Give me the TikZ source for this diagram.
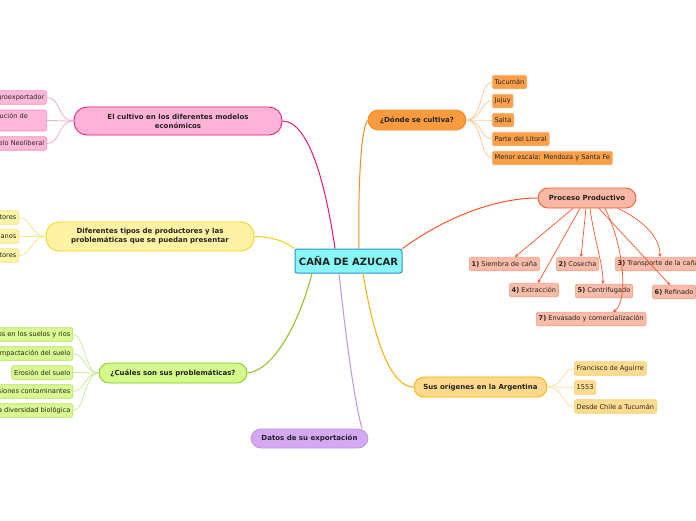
\documentclass[tikz,border=0pt]{standalone}
\usepackage{fontspec}
\setmainfont{DejaVu Sans}
\usetikzlibrary{arrows.meta}
\definecolor{txt}{HTML}{222222}
\definecolor{cenfill}{HTML}{8AF7F7}\definecolor{cendraw}{HTML}{2F8FCF}
\definecolor{pkfill}{HTML}{FFB3D6}\definecolor{pkdraw}{HTML}{E8157A}\definecolor{pkleaf}{HTML}{FFB8DA}\definecolor{pkleafd}{HTML}{F590C0}\definecolor{pkline}{HTML}{F8A9CF}
\definecolor{yefill}{HTML}{FFF3A3}\definecolor{yedraw}{HTML}{EBD21A}\definecolor{yeleaf}{HTML}{FFF4A8}\definecolor{yeleafd}{HTML}{F2E07A}\definecolor{yeline}{HTML}{F5E890}
\definecolor{grfill}{HTML}{D5FA8C}\definecolor{grdraw}{HTML}{8CC21E}\definecolor{grleaf}{HTML}{D8FA90}\definecolor{grleafd}{HTML}{B5E060}\definecolor{grline}{HTML}{CDE9A2}
\definecolor{pufill}{HTML}{D5A8F5}\definecolor{pudraw}{HTML}{B79AD2}
\definecolor{oyfill}{HTML}{FFDA8C}\definecolor{oydraw}{HTML}{F5B000}\definecolor{oyleaf}{HTML}{FFDC90}\definecolor{oyleafd}{HTML}{F8CC70}\definecolor{oyline}{HTML}{FFE0A8}
\definecolor{orfill}{HTML}{F99B3E}\definecolor{ordraw}{HTML}{F58C25}\definecolor{orleaf}{HTML}{FBA04A}\definecolor{orleafd}{HTML}{F9B070}\definecolor{orline}{HTML}{FDCB98}
\definecolor{rdfill}{HTML}{F9B8A3}\definecolor{rddraw}{HTML}{EE5A2E}\definecolor{rdleaf}{HTML}{F9BCA8}\definecolor{rdleafd}{HTML}{F3A088}\definecolor{rdline}{HTML}{F2582C}
\tikzset{
  leaf/.style={draw, rounded corners=2pt, inner sep=2.4pt, minimum height=13.5pt, line width=0.6pt, text=txt, font=\fontsize{6.6}{7.8}\selectfont},
  topic/.style={draw, rounded corners=10pt, minimum height=20pt, line width=0.8pt, text=txt, font=\bfseries\fontsize{7}{9}\selectfont, align=center},
  mainline/.style={line width=1pt},
  leafline/.style={line width=0.8pt},
  arr/.style={line width=0.7pt, draw=rdline, -{Stealth[length=3.5pt,width=3.5pt]}},
}
\begin{document}
\begin{tikzpicture}[x=1pt,y=-1pt]
\path[use as bounding box] (0,0) rectangle (696,520);
\clip (0,0) rectangle (696,520);
\fill[white] (0,0) rectangle (696,520);

% central
\node[draw=cendraw, fill=cenfill, line width=1pt, rounded corners=2pt, minimum width=107pt, minimum height=24pt, text=txt, font=\bfseries\fontsize{10}{12}\selectfont] (c) at (348.5,261) {CAÑA DE AZUCAR};

% topics
\node[topic, draw=pkdraw, fill=pkfill, minimum width=208pt, minimum height=28pt, rounded corners=13pt] (cult) at (178,121) {El cultivo en los diferentes modelos\\económicos};
\node[topic, draw=yedraw, fill=yefill, minimum width=208pt, minimum height=29pt, rounded corners=13pt] (dif) at (150,236.5) {Diferentes tipos de productores y las\\problemáticas que se puedan presentar};
\node[topic, draw=grdraw, fill=grfill, minimum width=148pt] (prob) at (173,373) {¿Cuáles son sus problemáticas?};
\node[topic, draw=pudraw, fill=pufill, minimum width=117pt, minimum height=19pt] (dat) at (309.5,438.5) {Datos de su exportación};
\node[topic, draw=oydraw, fill=oyfill, minimum width=133pt] (ori) at (480.5,387) {Sus orígenes en la Argentina};
\node[topic, draw=ordraw, fill=orfill, minimum width=98pt] (don) at (417,120) {¿Dónde se cultiva?};
\node[topic, draw=rddraw, fill=rdfill, minimum width=98pt] (pp) at (587,198) {Proceso Productivo};

% main connectors
\draw[mainline, pkdraw] (cult.east) .. controls (312,121) and (328,200) .. ([xshift=-13.5pt]c.north);
\draw[mainline, ordraw] (don.west) .. controls (360,130) and (358,200) .. ([xshift=10.5pt]c.north);
\draw[mainline, yedraw] (dif.east) .. controls (275,237) and (285,242) .. (c.north west);
\draw[mainline, rdline] (c.north east) .. controls (450,214) and (500,198) .. (pp.west);
\draw[mainline, grdraw] (prob.east) .. controls (275,370) and (300,320) .. ([xshift=-36.5pt]c.south);
\draw[mainline, pudraw] ([xshift=-9.5pt]c.south) .. controls (345,330) and (354,400) .. ([xshift=52.5pt]dat.north);
\draw[mainline, oydraw] ([xshift=14.5pt]c.south) .. controls (375,345) and (392,387) .. (ori.west);

% pink leaves
\node[leaf, draw=pkleafd, fill=pkleaf, anchor=east] (p1) at (47,97.5) {Modelo Agroexportador};
\node[leaf, draw=pkleafd, fill=pkleaf, anchor=east, text width=100pt, align=left, minimum height=21pt] (p2) at (47,120.5) {Modelo de Sustitución de\\Importaciones};
\node[leaf, draw=pkleafd, fill=pkleaf, anchor=east] (p3) at (47,143.5) {Modelo Neoliberal};
\foreach \n in {p1,p2,p3}
  \draw[leafline, pkline] (cult.west) .. controls +(-16,0) and +(14,0) .. (\n.east);

% yellow leaves
\node[leaf, draw=yeleafd, fill=yeleaf, anchor=east] (y1) at (19,217.5) {Grandes productores};
\node[leaf, draw=yeleafd, fill=yeleaf, anchor=east] (y2) at (19,236.5) {Productores medianos};
\node[leaf, draw=yeleafd, fill=yeleaf, anchor=east] (y3) at (19,255.5) {Pequeños productores};
\foreach \n in {y1,y2,y3}
  \draw[leafline, yeline] (dif.west) .. controls +(-14,0) and +(12,0) .. (\n.east);

% green leaves
\node[leaf, draw=grleafd, fill=grleaf, anchor=east] (g1) at (73,334.5) {Residuos en los suelos y ríos};
\node[leaf, draw=grleafd, fill=grleaf, anchor=east] (g2) at (73,353.5) {Compactación del suelo};
\node[leaf, draw=grleafd, fill=grleaf, anchor=east] (g3) at (73,372.5) {Erosión del suelo};
\node[leaf, draw=grleafd, fill=grleaf, anchor=east] (g4) at (73,391.5) {Emisiones contaminantes};
\node[leaf, draw=grleafd, fill=grleaf, anchor=east] (g5) at (73,410.5) {Pérdida de la diversidad biológica};
\foreach \n in {g1,g2,g3,g4,g5}
  \draw[leafline, grline] (prob.west) .. controls +(-14,0) and +(12,0) .. (\n.east);

% orange leaves
\node[leaf, draw=orleafd, fill=orleaf, anchor=west] (o1) at (492,82) {Tucumán};
\node[leaf, draw=orleafd, fill=orleaf, anchor=west] (o2) at (492,101) {Jujuy};
\node[leaf, draw=orleafd, fill=orleaf, anchor=west] (o3) at (492,120) {Salta};
\node[leaf, draw=orleafd, fill=orleaf, anchor=west] (o4) at (492,139) {Parte del Litoral};
\node[leaf, draw=orleafd, fill=orleaf, anchor=west] (o5) at (492,158) {Menor escala: Mendoza y Santa Fe};
\foreach \n in {o1,o2,o3,o4,o5}
  \draw[leafline, orline] (don.east) .. controls +(16,0) and +(-12,0) .. (\n.west);

% origins leaves
\node[leaf, draw=oyleafd, fill=oyleaf, anchor=west] (a1) at (574,368.5) {Francisco de Aguirre};
\node[leaf, draw=oyleafd, fill=oyleaf, anchor=west] (a2) at (574,387.5) {1553};
\node[leaf, draw=oyleafd, fill=oyleaf, anchor=west] (a3) at (574,406.5) {Desde Chile a Tucumán};
\foreach \n in {a1,a2,a3}
  \draw[leafline, oyline] (ori.east) .. controls +(16,0) and +(-12,0) .. (\n.west);

% process steps
\node[leaf, draw=rdleafd, fill=rdleaf, anchor=west] (s1) at (469,264) {\textbf{1)} Siembra de caña};
\node[leaf, draw=rdleafd, fill=rdleaf, anchor=west] (s2) at (556,264) {\textbf{2)} Cosecha};
\node[leaf, draw=rdleafd, fill=rdleaf, anchor=west] (s3) at (615,264) {\textbf{3)} Transporte de la caña};
\node[leaf, draw=rdleafd, fill=rdleaf, anchor=west] (s4) at (509,290) {\textbf{4)} Extracción};
\node[leaf, draw=rdleafd, fill=rdleaf, anchor=west] (s5) at (575,291) {\textbf{5)} Centrifugado};
\node[leaf, draw=rdleafd, fill=rdleaf, anchor=west] (s6) at (652,292) {\textbf{6)} Refinado};
\node[leaf, draw=rdleafd, fill=rdleaf, anchor=west] (s7) at (536,319) {\textbf{7)} Envasado y comercialización};

\draw[arr] ([xshift=-14pt]pp.south) -- ([xshift=46pt]s1.north west);
\draw[arr] ([xshift=-7pt]pp.south) -- ([xshift=29pt]s4.north west);
\draw[arr] ([xshift=-1pt]pp.south) -- ([xshift=25pt]s2.north west);
\draw[arr] ([xshift=3pt]pp.south) .. controls +(4,30) and +(0,-20) .. ([xshift=28pt]s5.north west);
\draw[arr] ([xshift=12pt]pp.south) -- ([xshift=18pt]s6.north west);
\draw[arr] ([xshift=18pt]pp.south) .. controls +(20,40) and +(15,-10) .. ([xshift=77pt]s7.north west);
\draw[arr] ([xshift=31pt]pp.south) .. controls +(25,12) and +(0,-20) .. ([xshift=45pt]s3.north west);
\end{tikzpicture}
\end{document}
